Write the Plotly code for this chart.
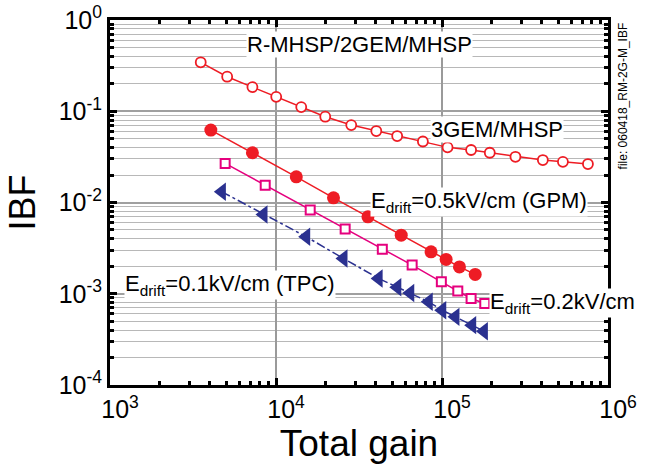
import plotly.graph_objects as go

# R-MHSP/2GEM/MHSP (open circles)
gain_rmhsp = [3520, 5080, 7210, 10030, 14190, 19800, 28400, 40200, 53700, 76700,
              108000, 149700, 194000, 277000, 405000, 535000, 757000]
ibf_rmhsp = [0.344, 0.239, 0.184, 0.144, 0.111, 0.0871, 0.0706, 0.0607, 0.0535, 0.0466,
             0.0402, 0.0376, 0.0351, 0.0317, 0.0292, 0.0279, 0.0264]

# 3GEM/MHSP, Edrift = 0.5 kV/cm (filled circles)
gain_05 = [4050, 7210, 13250, 22200, 35800, 56800, 85900, 105900, 127400, 158500]
ibf_05 = [0.0622, 0.0351, 0.0191, 0.01126, 0.00697, 0.00439, 0.00288, 0.00238, 0.00197, 0.00163]

# 3GEM/MHSP, Edrift = 0.2 kV/cm (open squares)
gain_02 = [4940, 8610, 16070, 26100, 43700, 66100, 99100, 124500, 149700, 181000]
ibf_02 = [0.0268, 0.0155, 0.00826, 0.00511, 0.00307, 0.00206, 0.00135, 0.00107, 0.000888, 0.000783]

# 3GEM/MHSP, Edrift = 0.1 kV/cm (triangles)
gain_01 = [4720, 8410, 15200, 25500, 41500, 53800, 64400, 83200, 100300, 120500, 152000, 178700]
ibf_01 = [0.0131, 0.0074, 0.00421, 0.00244, 0.00147, 0.00118, 0.00102, 0.000815, 0.000661,
          0.000558, 0.000453, 0.000389]

x_tickvals = [1e3, 1e4, 1e5, 1e6]
x_ticktext = ["10<sup>3</sup>", "10<sup>4</sup>", "10<sup>5</sup>", "10<sup>6</sup>"]
y_tickvals = [1e-4, 1e-3, 1e-2, 1e-1, 1e0]
y_ticktext = ["10<sup>-4</sup>", "10<sup>-3</sup>", "10<sup>-2</sup>", "10<sup>-1</sup>", "10<sup>0</sup>"]

RED = "#ee1c24"
MAG = "#e5007e"
BLUE = "#2b3190"
FONT = "Liberation Sans, Arial, sans-serif"

fig = go.Figure()
fig.add_trace(go.Scatter(x=gain_rmhsp, y=ibf_rmhsp, mode="lines+markers",
                         line=dict(color=RED, width=1.5),
                         marker=dict(symbol="circle", size=10, color="white",
                                     line=dict(color=RED, width=1.8))))
fig.add_trace(go.Scatter(x=gain_01, y=ibf_01, mode="lines+markers",
                         line=dict(color=BLUE, width=1.5, dash="dashdot"),
                         marker=dict(symbol="triangle-left", size=16, color=BLUE)))
fig.add_trace(go.Scatter(x=gain_02, y=ibf_02, mode="lines+markers",
                         line=dict(color=MAG, width=1.5),
                         marker=dict(symbol="square", size=9, color="white",
                                     line=dict(color=MAG, width=2))))
fig.add_trace(go.Scatter(x=gain_05, y=ibf_05, mode="lines+markers",
                         line=dict(color=RED, width=1.5),
                         marker=dict(symbol="circle", size=13, color=RED)))

ann_font = dict(family=FONT, size=22, color="black")
annotations = [
    dict(text="R-MHSP/2GEM/MHSP", x=0.502, y=0.934, xanchor="center", yanchor="middle"),
    dict(text="3GEM/MHSP", x=0.777, y=0.701, xanchor="center", yanchor="middle"),
    dict(text="E<sub>drift</sub>=0.5kV/cm (GPM)", x=0.522, y=0.502, xanchor="left", yanchor="middle"),
    dict(text="E<sub>drift</sub>=0.2kV/cm", x=0.761, y=0.225, xanchor="left", yanchor="middle"),
    dict(text="E<sub>drift</sub>=0.1kV/cm (TPC)", x=0.028, y=0.275, xanchor="left", yanchor="middle"),
]
for a in annotations:
    a.update(xref="paper", yref="paper", showarrow=False, font=ann_font,
             bgcolor="white", borderpad=0)
annotations.append(dict(text="file: 060418_RM-2G-M_IBF", xref="paper", yref="paper",
                        x=1.030, y=1.0, xanchor="center", yanchor="top", textangle=-90,
                        showarrow=False, font=dict(family=FONT, size=12, color="black")))

axis_common = dict(type="log", showline=True, linewidth=3, linecolor="black",
                   mirror="allticks", ticks="inside", ticklen=7, tickwidth=2.5,
                   tickcolor="black", tickfont=dict(family=FONT, size=25, color="black"),
                   zeroline=False, automargin=False)

fig.update_layout(
    width=647, height=468,
    margin=dict(l=110, r=39, t=20, b=83),
    paper_bgcolor="white", plot_bgcolor="white",
    showlegend=False,
    annotations=annotations,
    xaxis=dict(**axis_common, range=[3, 6], tickvals=x_tickvals, ticktext=x_ticktext,
               showgrid=True, gridcolor="#9a9a9a", gridwidth=1.5, ticklabelshift=10,
               minor=dict(ticks="inside", ticklen=4, tickwidth=2.5, tickcolor="black",
                          dtick="D1", showgrid=False),
               title=dict(text="Total gain", font=dict(family=FONT, size=37, color="black"),
                          standoff=2)),
    yaxis=dict(**axis_common, range=[-4, 0], tickvals=y_tickvals, ticktext=y_ticktext,
               showgrid=True, gridcolor="#a0a0a0", gridwidth=1.5,
               minor=dict(ticks="inside", ticklen=4, tickwidth=2.5, tickcolor="black",
                          dtick="D1", showgrid=True, gridcolor="#b8b8b8", gridwidth=1),
               title=dict(text="IBF", font=dict(family=FONT, size=36, color="black"),
                          standoff=13)),
)

fig.write_html("out.html", config={"displayModeBar": False},
               post_script="document.body.style.margin='0px';")
